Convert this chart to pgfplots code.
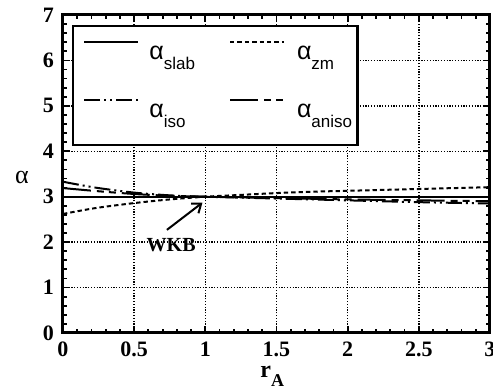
\documentclass[border=0pt]{standalone}
\usepackage{pgfplots}
\pgfplotsset{compat=1.18}
\usepackage{fontspec}
\setmainfont{Liberation Serif}
\setsansfont{Liberation Sans}
\usetikzlibrary{arrows.meta}
\newcommand{\leg}[1]{\sffamily\fontsize{12.5}{12.5}\selectfont α\raisebox{-0.75ex}{\fontsize{8.5}{8.5}\selectfont #1}}
\begin{document}
\begin{tikzpicture}
\begin{axis}[
  scale only axis,
  width=213.5pt, height=159pt,
  xmin=0, xmax=3, ymin=0, ymax=7,
  xtick={0,0.5,1,1.5,2,2.5,3},
  xticklabels={0,0.5,1,1.5,2,2.5,3},
  ytick={0,1,...,7},
  minor x tick num=4, minor y tick num=4,
  tick align=inside,
  major tick length=3.5pt, minor tick length=2pt,
  every tick/.style={black, line width=0.9pt},
  axis line style={line width=1.5pt},
  /pgf/number format/assume math mode=true,
  tick label style={font=\fontsize{11}{11}\selectfont\bfseries},
  xticklabel style={yshift=-1pt},
  yticklabel style={xshift=-1pt},
  grid=major,
  major grid style={black, line width=0.7pt, dash pattern=on 0.6pt off 0.8pt},
  ylabel style={at={(rel axis cs:-0.096,0.49)}, anchor=center, rotate=-90},
  xlabel style={at={(rel axis cs:0.49,-0.135)}, anchor=center},
  ylabel={\fontsize{13}{13}\selectfont α},
  xlabel={\fontsize{12}{12}\selectfont\bfseries r\raisebox{-0.8ex}{\fontsize{9}{9}\selectfont A}},
  legend columns=2,
  legend image code/.code={\path (0pt,0pt); \draw[#1] (0pt,6.5pt) -- (27pt,6.5pt);},
  legend style={at={(axis cs:0.1405,6.44)}, anchor=north west, draw=none, fill=none,
    inner sep=0pt, row sep=15.5pt,
    nodes={inner sep=0pt, text depth=4pt, text height=9pt},
    /tikz/column 1/.style={column sep=5pt},
    /tikz/column 2/.style={column sep=17pt},
    /tikz/column 3/.style={column sep=6pt}},
  legend cell align=left,
]
\addplot[black, line width=1pt] coordinates {(0,3) (3,3)};
\addlegendentry{\leg{slab}}
\addplot[black, line width=1pt, smooth, dash pattern=on 2.2pt off 1.5pt] coordinates {
(0,2.62) (0.1,2.68) (0.25,2.76) (0.5,2.86) (0.75,2.94) (1,3.0) (1.25,3.04) (1.5,3.08) (1.75,3.11) (2,3.13) (2.5,3.17) (3,3.21)};
\addlegendentry{\leg{zm}}
\addplot[black, line width=1pt, smooth, dash pattern=on 8pt off 2pt on 1pt off 2pt on 1pt off 2pt] coordinates {
(0,3.33) (0.1,3.27) (0.25,3.19) (0.5,3.09) (0.75,3.03) (1,3.0) (1.5,2.96) (2,2.92) (2.5,2.88) (3,2.85)};
\addlegendentry{\leg{iso}}
\addplot[black, line width=1pt, smooth, dash pattern=on 14pt off 3pt on 3.5pt off 2.5pt on 3.5pt off 3pt] coordinates {
(0,3.19) (0.25,3.12) (0.5,3.06) (0.75,3.02) (1,3.0) (1.5,2.97) (2,2.94) (2.5,2.92) (3,2.90)};
\addlegendentry{\leg{aniso}}
\draw[line width=1.2pt, fill=white] (axis cs:0.07,6.76) rectangle (axis cs:2.07,4.14);
\node[font=\fontsize{10}{10}\selectfont\bfseries] at (axis cs:0.76,1.94) {WKB};
\draw[line width=1pt, -{Straight Barb[length=4pt,width=6pt]}] (axis cs:0.73,2.27) -- (axis cs:0.98,2.87);
\end{axis}
\pgfresetboundingbox
\path[use as bounding box] ([shift={(-31.5pt,-28.5pt)}]current axis.south west) rectangle ([shift={(1.5pt,7.5pt)}]current axis.north east);
\end{tikzpicture}
\end{document}
